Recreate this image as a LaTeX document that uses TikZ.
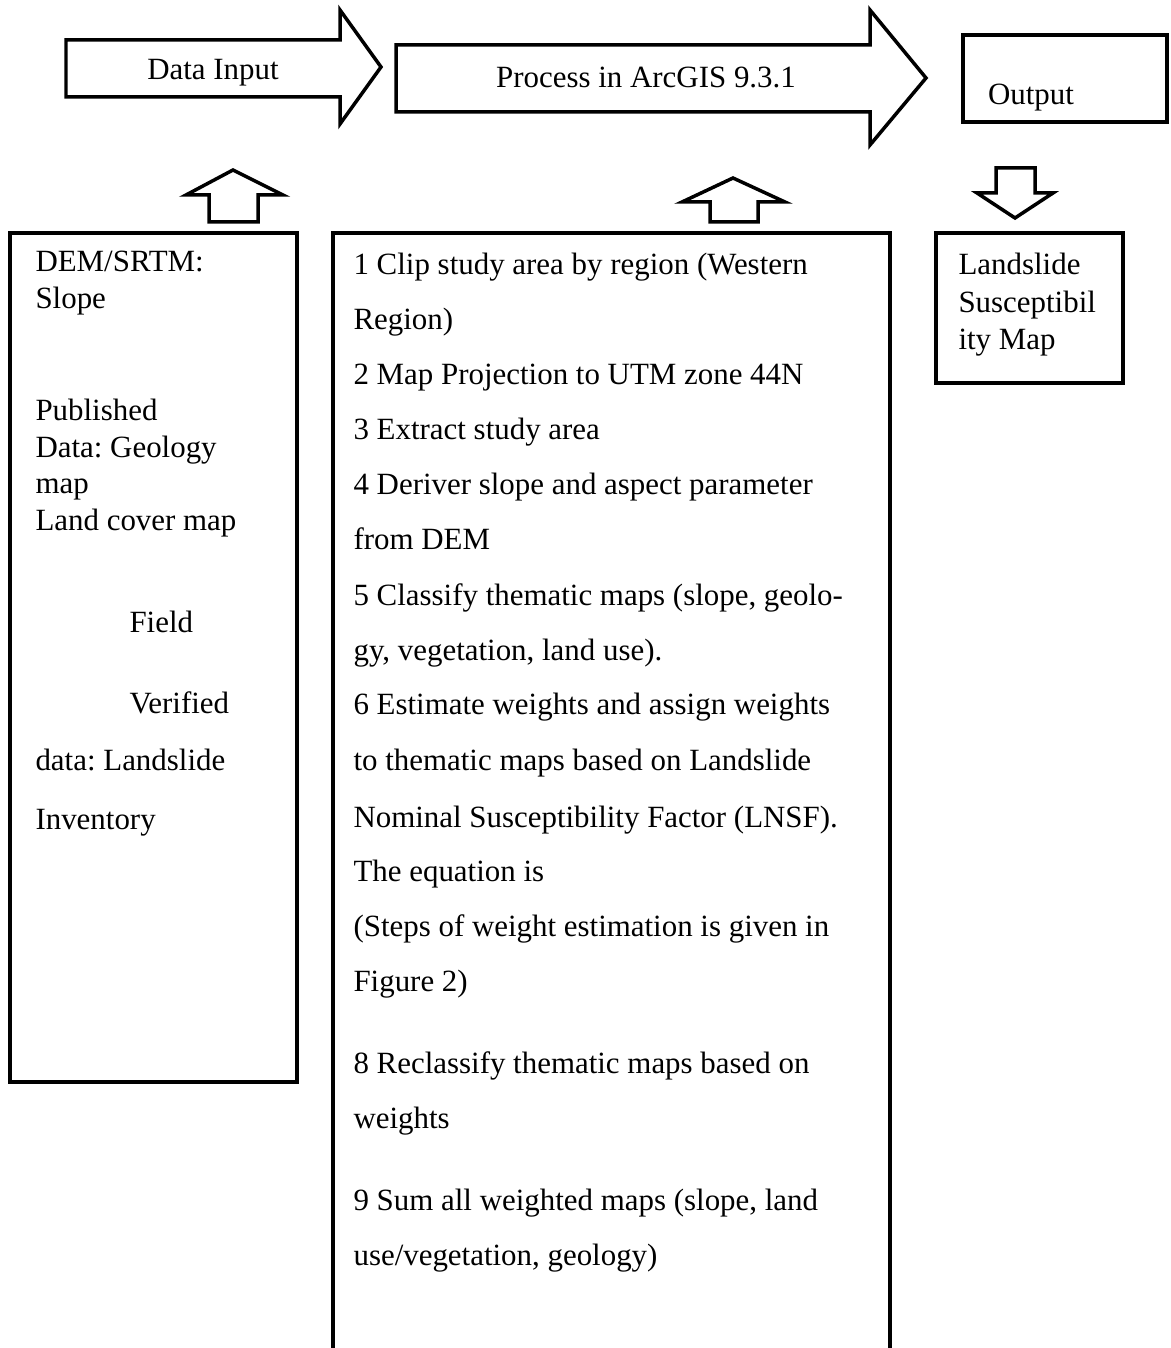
\documentclass[tikz,border=0pt]{standalone}
\usepackage{fontspec}
\setmainfont{Liberation Serif}
\usetikzlibrary{positioning}
\frenchspacing
\tikzset{
  outline/.style={draw=black, line width=1.3pt, line join=miter},
  panel/.style={draw=black, line width=1.5pt},
  caption/.style={font=\fontsize{11.5}{14}\selectfont, inner sep=0pt, anchor=base west},
  heading/.style={font=\fontsize{11.5}{14}\selectfont, inner sep=0pt, anchor=base}
}

\begin{document}
\begin{tikzpicture}[x=0.372pt, y=-0.372pt]
\useasboundingbox (0,0) rectangle (1170,1348);

% top row: flow arrows and output box
\draw[outline] (66,40) -- (340,40) -- (340,10) -- (381,67) -- (340,124) -- (340,97) -- (66,97) -- cycle;
\node[heading] (input) at (213,80) {Data Input};
\draw[outline] (396,45) -- (870,45) -- (870,10) -- (926,78) -- (870,145) -- (870,112) -- (396,112) -- cycle;
\node[heading] (process) at (646,88) {Process in ArcGIS 9.3.1};
\draw[panel] (963,35) rectangle (1167,122);
\node[heading] (output) at (1031,105) {Output};

% small block arrows
\draw[outline] (209,222) -- (209,195) -- (186,195) -- (233,170) -- (283,195) -- (258,195) -- (258,222) -- cycle;
\draw[outline] (710,222) -- (710,202) -- (682,202) -- (733,178) -- (785,202) -- (758,202) -- (758,222) -- cycle;
\draw[outline] (996,168) -- (1035,168) -- (1035,193) -- (1053,193) -- (1015,218) -- (977,193) -- (996,193) -- cycle;

% boxes
\draw[panel] (10,233) rectangle (297,1082);
\draw[panel] (333,1360) -- (333,233) -- (890,233) -- (890,1360);
\draw[panel] (936,233) rectangle (1123,383);

% data sources
\foreach \yy/\xx/\t [count=\i] in {272/35/{DEM/SRTM:}, 309/35/{Slope},
    421/35/{Published}, 458/35/{Data: Geology}, 494/35/{map},
    531/35/{Land cover map}, 632/129/{Field}, 713/129/{Verified},
    770/35/{data: Landslide}, 829/35/{Inventory}}
  \node[caption] (src\i) at (\xx,\yy) {\t};

% processing steps
\foreach \yy/\t [count=\i] in {275/{1 Clip study area by region (Western}, 330/{Region)},
    385/{2 Map Projection to UTM zone 44N}, 440/{3 Extract study area},
    495/{4 Deriver slope and aspect parameter}, 550/{from DEM},
    606/{5 Classify thematic maps (slope, geolo-}, 660/{gy, vegetation, land use).},
    714/{6 Estimate weights and assign weights}, 770/{to thematic maps based on Landslide},
    827/{Nominal Susceptibility Factor (LNSF).}, 881/{The equation is},
    936/{(Steps of weight estimation is given in}, 991/{Figure 2)},
    1073/{8 Reclassify thematic maps based on}, 1128/{weights},
    1210/{9 Sum all weighted maps (slope, land}, 1265/{use/vegetation, geology)}}
  \node[caption] (step\i) at (353,\yy) {\t};

% result
\node[caption] (map1) at (958,275) {Landslide};
\node[caption] (map2) at (958,313) {Susceptibil};
\node[caption] (map3) at (958,350) {ity Map};
\end{tikzpicture}
\end{document}
